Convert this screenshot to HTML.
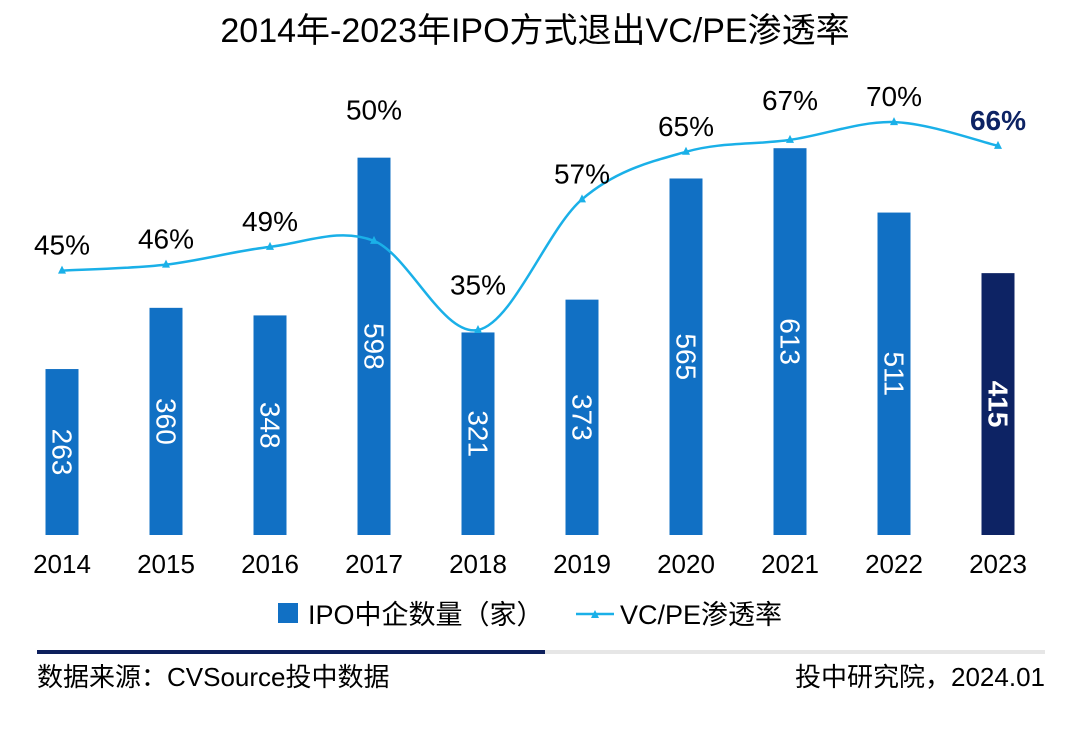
<!DOCTYPE html>
<html><head><meta charset="utf-8"><style>
body{margin:0;background:#fff;}
svg text{font-family:"Liberation Sans","Noto Sans CJK SC",sans-serif;}
</style></head><body>
<svg id="c" width="1080" height="724" viewBox="0 0 1080 724" xmlns="http://www.w3.org/2000/svg">
<text x="535" y="42" font-size="34" text-anchor="middle" fill="#000">2014年-2023年IPO方式退出VC/PE渗透率</text>
<g id="bars"></g><g id="line"></g><g id="xl"></g>
<g>
<rect x="278" y="603" width="20" height="20" fill="#1170c4"/>
<text x="308" y="624" font-size="27">IPO中企数量（家）</text>
<line x1="576" y1="614" x2="614" y2="614" stroke="#1ab0e8" stroke-width="2.5"/>
<path d="M591,618 L595,610 L599,618Z" fill="#1ab0e8"/>
<text x="620" y="624" font-size="27">VC/PE渗透率</text>
</g>
<rect x="37" y="650" width="508" height="4" fill="#0d1f5c"/>
<rect x="545" y="650" width="500" height="4" fill="#e6e6e6"/>
<text x="37" y="686" font-size="26">数据来源：CVSource投中数据</text>
<text x="1045" y="686" font-size="26" text-anchor="end">投中研究院，2024.01</text>
</svg>
<script>
const years=["2014","2015","2016","2017","2018","2019","2020","2021","2022","2023"];
const counts=[263,360,348,598,321,373,565,613,511,415];
const rates=[45,46,49,50,35,57,65,67,70,66];
const NS="http://www.w3.org/2000/svg";
const base=535;
function x(i){return 62+i*104;}
function yb(v){return base-v*0.631;}
function yl(p){return 330-(p-35)*5.94;}
function mk(t,a,p){const e=document.createElementNS(NS,t);for(const k in a)e.setAttribute(k,a[k]);p.appendChild(e);return e;}
const B=document.getElementById('bars'),L=document.getElementById('line'),X=document.getElementById('xl');
counts.forEach((v,i)=>{
 const last=i===counts.length-1;
 const r=mk('rect',{x:x(i)-16.5,y:yb(v),width:33,height:base-yb(v),fill:last?'#0d2364':'#1170c4'},B);
 
 
 const cy=(yb(v)+base)/2;
 const t=mk('text',{x:x(i),y:cy,'font-size':28,fill:'#fff','text-anchor':'middle','dominant-baseline':'central','font-weight':last?'bold':'normal',transform:`rotate(90 ${x(i)} ${cy})`},B);
 t.textContent=v;
 
 
 const xt=mk('text',{x:x(i),y:573,'font-size':26,'text-anchor':'middle'},X);
 xt.textContent=years[i];
 
 
});
const pts=rates.map((p,i)=>[x(i),yl(p)]);
let d=`M${pts[0][0]},${pts[0][1]}`;
for(let i=0;i<pts.length-1;i++){
 const p0=pts[Math.max(0,i-1)],p1=pts[i],p2=pts[i+1],p3=pts[Math.min(pts.length-1,i+2)];
 const c1=[p1[0]+(p2[0]-p0[0])/6,p1[1]+(p2[1]-p0[1])/6],c2=[p2[0]-(p3[0]-p1[0])/6,p2[1]-(p3[1]-p1[1])/6];
 d+=` C${c1[0]},${c1[1]} ${c2[0]},${c2[1]} ${p2[0]},${p2[1]}`;
}
const path=mk('path',{d:d,fill:'none',stroke:'#1ab0e8','stroke-width':2.5},L);


pts.forEach((p,i)=>{
 const m=mk('path',{d:`M${p[0]-4},${p[1]+3} L${p[0]},${p[1]-5} L${p[0]+4},${p[1]+3}Z`,fill:'#1ab0e8'},L);
 
 
 const last=i===pts.length-1;
 // label above the point, or above the bar if the bar is taller
 const ly=Math.min(p[1]-16, yb(counts[i])-38);
 const t=mk('text',{x:p[0],y:ly,'font-size':28,'text-anchor':'middle',fill:last?'#0d2364':'#000','font-weight':last?'bold':'normal'},L);
 t.textContent=rates[i]+'%';
 
 
});
</script>
</body></html>
